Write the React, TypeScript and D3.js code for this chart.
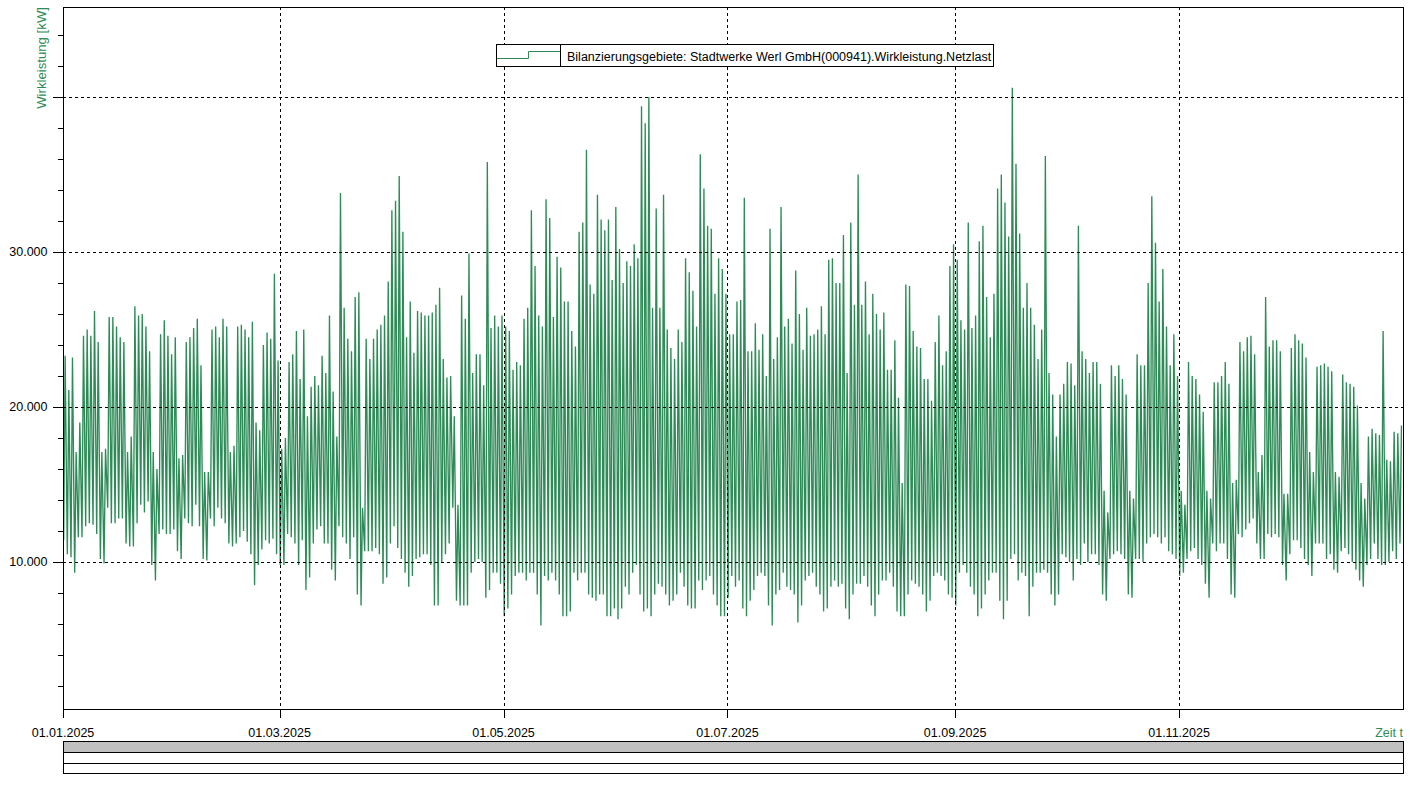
import { useEffect, useRef } from 'react';
import * as d3 from 'd3';

// daily peak and trough of the grid load in kW, 01.01.2025 .. 31.12.2025
const dayHigh = [
  23300, 21100, 23200, 17100, 19000, 24600, 25000, 24600, 26200, 24200,
  17100, 17300, 25800, 25800, 25200, 24500, 24200, 17100, 18100, 26500,
  25900, 26000, 25200, 23600, 17100, 16000, 24700, 25600, 24600, 23400,
  24500, 16700, 16900, 24200, 24500, 25100, 25700, 22700, 15800, 15800,
  25000, 25200, 24500, 25700, 25200, 17100, 17500, 25200, 25300, 25000,
  24500, 25500, 19000, 18500, 24000, 24800, 24400, 28600, 23000, 17300,
  18000, 22900, 23400, 24900, 21800, 25000, 19400, 21300, 22000, 21400,
  23300, 22200, 25900, 21000, 18100, 33800, 26400, 24400, 23600, 27100,
  27400, 13500, 24400, 23100, 24400, 25000, 25300, 25900, 28100, 32700,
  33300, 34900, 31300, 24500, 26800, 23500, 26200, 26100, 25900, 25900,
  26100, 26600, 27700, 23100, 21900, 22000, 19400, 13700, 27200, 25700,
  29900, 22200, 23400, 23400, 21400, 35800, 25100, 25900, 25200, 25900,
  25200, 24900, 22400, 22900, 22700, 25700, 26400, 32700, 29100, 25900,
  25200, 33400, 32200, 25800, 29700, 29000, 26800, 26800, 24900, 23900,
  31300, 31900, 36600, 27900, 27300, 33700, 32100, 31400, 32100, 28200,
  32900, 30200, 28000, 29400, 29100, 30500, 29600, 39400, 38300, 40000,
  26400, 32800, 26400, 33700, 25000, 23800, 23100, 25000, 24200, 29600,
  28700, 27500, 25200, 36300, 34100, 31700, 31500, 27300, 29600, 28900,
  27300, 24700, 24700, 26800, 26900, 33500, 23600, 23600, 25400, 23700,
  24700, 22000, 31500, 23100, 24500, 32900, 25200, 25700, 24100, 28800,
  26000, 23700, 26400, 24600, 24700, 25000, 26500, 24700, 29500, 29600,
  28000, 28000, 31100, 22200, 31900, 26600, 35000, 26600, 28100, 24700,
  27300, 26000, 25000, 26100, 22400, 22400, 24300, 20600, 15100, 27900,
  27800, 24900, 23900, 23800, 21800, 21800, 20400, 24200, 25900, 22700,
  23600, 29100, 30500, 29500, 25600, 25000, 31900, 25100, 25900, 30700,
  31700, 27100, 24500, 27300, 34100, 35000, 33200, 31000, 40600, 35700,
  31200, 26400, 28000, 26400, 25300, 23100, 25000, 36200, 22200, 20800,
  18100, 20800, 21500, 22900, 22800, 21400, 31700, 23600, 23100, 22200,
  22900, 22900, 21500, 14600, 13200, 22700, 22000, 22700, 21800, 20800,
  14600, 14100, 23400, 22700, 22700, 28000, 33600, 30600, 26800, 28900,
  25200, 22700, 24700, 22000, 14600, 13700, 22900, 22000, 21800, 20800,
  19700, 14600, 14100, 21600, 21600, 22000, 22900, 21500, 15100, 15300,
  24200, 23600, 24500, 24600, 23400, 15800, 16900, 27100, 23900, 24300,
  24300, 23600, 14400, 14400, 23800, 24700, 24300, 24100, 23200, 17100,
  15800, 22600, 22700, 22800, 22600, 22300, 15800, 15500, 22100, 21600,
  21500, 21300, 20100, 15100, 14100, 18100, 18600, 18300, 18200, 24900,
  16600, 16500, 18400, 18300, 18800,
];

const dayLow = [
  11400, 10500, 10300, 9300, 11600, 11600, 12300, 12500, 12400, 11800,
  10200, 9900, 13500, 12500, 12500, 12800, 12800, 11200, 11000, 11000,
  12500, 13700, 13200, 13900, 9800, 8800, 11800, 12100, 11800, 11800,
  12100, 10700, 10200, 12800, 12500, 12300, 13700, 12300, 10200, 10100,
  12800, 12300, 13500, 12800, 12500, 11200, 11000, 11200, 11600, 12000,
  11300, 10500, 8500, 9800, 10800, 11400, 11200, 11500, 10500, 9800,
  9800, 11800, 11600, 11200, 9800, 11400, 8200, 9000, 11200, 12100,
  12300, 11200, 11200, 9500, 8800, 12300, 11600, 11200, 10200, 11600,
  7900, 7200, 10700, 10700, 10700, 10900, 10500, 8600, 9000, 11200,
  12300, 10900, 10200, 9300, 8400, 9100, 10200, 10300, 10500, 10500,
  9800, 7200, 7200, 10000, 10500, 11200, 13500, 7500, 7200, 7200,
  7200, 9300, 10000, 10200, 10000, 7700, 8200, 9300, 9300, 8600,
  6500, 7000, 7900, 9100, 9300, 9300, 8800, 9300, 9300, 7900,
  5900, 9100, 8800, 9300, 8800, 7900, 6500, 6500, 6800, 9300,
  8800, 9300, 9300, 7900, 7700, 7500, 7900, 7900, 6500, 6500,
  7000, 6300, 7000, 8400, 7900, 9300, 9800, 7900, 6800, 7000,
  6500, 7900, 8600, 8400, 7900, 7200, 7500, 7900, 9300, 8400,
  7200, 7000, 7000, 8800, 8200, 8800, 9100, 7900, 7200, 6500,
  6500, 7700, 9100, 8400, 8800, 7000, 6500, 7500, 8200, 9100,
  9300, 9100, 7200, 5900, 7900, 8200, 9300, 8400, 8200, 7900,
  6100, 7200, 8800, 9100, 9300, 8400, 7900, 6800, 7000, 8400,
  8800, 8400, 8600, 7000, 6300, 7900, 8600, 8600, 9100, 8400,
  7200, 6500, 7900, 8800, 8800, 9300, 8400, 6800, 6500, 6500,
  7900, 8800, 8600, 8400, 7900, 6800, 7500, 9100, 9300, 9100,
  8800, 7900, 7700, 7200, 9300, 9800, 9300, 8400, 7900, 6500,
  7000, 7900, 8800, 9300, 9300, 7500, 6300, 7500, 10200, 10500,
  8800, 9300, 9100, 6500, 8400, 9300, 9300, 9500, 9300, 7900,
  7200, 7900, 10500, 10300, 10000, 8800, 10200, 9800, 11200, 10000,
  10500, 10500, 9800, 7900, 7500, 10200, 10500, 10700, 10500, 10200,
  7900, 7700, 10200, 10200, 10000, 11200, 11600, 11800, 11600, 11200,
  11600, 10700, 10500, 10200, 9100, 9300, 10200, 10700, 10900, 10200,
  9800, 8600, 7700, 11200, 10700, 11200, 11200, 10200, 7900, 7700,
  11800, 11600, 12100, 12500, 12800, 11200, 10200, 10200, 11800, 11600,
  11800, 11600, 9800, 8800, 10500, 11400, 11400, 10900, 10200, 9800,
  9100, 11200, 11200, 11200, 10200, 10500, 9500, 9300, 10700, 10900,
  10500, 10000, 9500, 8800, 8400, 9800, 10200, 11200, 10200, 9800,
  9800, 10000, 10700, 10200, 11200,
];

const xTickDates = ['2025-01-01', '2025-03-01', '2025-05-01', '2025-07-01', '2025-09-01', '2025-11-01'];
const yLabelValues = [10000, 20000, 30000];
const yGridValues = [10000, 20000, 30000, 40000];
const seriesName = 'Bilanzierungsgebiete: Stadtwerke Werl GmbH(000941).Wirkleistung.Netzlast';
const yTitle = 'Wirkleistung [kW]';
const xTitle = 'Zeit t';

const WIDTH = 1410;
const HEIGHT = 795;
const plot = { left: 63, right: 1403, top: 7, bottom: 709 };
const GREEN = '#2e8b57';
const FONT = '"Liberation Sans", Arial, sans-serif';
const FS = 12.5;

export default function App() {
  const svgRef = useRef<SVGSVGElement>(null);

  useEffect(() => {
    if (!svgRef.current) return;
    const svg = d3.select(svgRef.current);
    svg.selectAll('*').remove();

    const x = d3.scaleUtc()
      .domain([new Date(Date.UTC(2025, 0, 1)), new Date(Date.UTC(2026, 0, 1))])
      .range([plot.left, plot.right]);
    const y = d3.scaleLinear().domain([516, 45806]).range([plot.bottom, plot.top]);

    const de = d3.formatLocale({ decimal: ',', thousands: '.', grouping: [3], currency: ['', ' €'] });
    const fmtNum = de.format(',');
    const fmtDate = d3.utcFormat('%d.%m.%Y');
    const dayMs = 86400000;
    const t0 = Date.UTC(2025, 0, 1);

    // zigzag through each day's trough and peak
    const pts: [number, number][] = [];
    dayHigh.forEach((hi, i) => {
      pts.push([t0 + (i + 0.18) * dayMs, dayLow[i]]);
      pts.push([t0 + (i + 0.58) * dayMs, hi]);
    });

    const line = d3.line<[number, number]>()
      .x(d => x(new Date(d[0])))
      .y(d => y(d[1]));

    svg.append('path')
      .datum(pts)
      .attr('d', line)
      .attr('fill', 'none')
      .attr('stroke', GREEN)
      .attr('stroke-width', 1.35)
      .attr('stroke-linejoin', 'miter')
      .attr('stroke-miterlimit', 2);

    // grid
    const grid = svg.append('g').attr('stroke', '#000').attr('stroke-dasharray', '3,3').attr('stroke-width', 1);
    yGridValues.forEach(v => {
      const yy = Math.round(y(v)) + 0.5;
      grid.append('line').attr('x1', plot.left).attr('x2', plot.right).attr('y1', yy).attr('y2', yy);
    });
    xTickDates.slice(1).forEach(s => {
      const xx = Math.round(x(new Date(s + 'T00:00:00Z'))) + 0.5;
      grid.append('line').attr('x1', xx).attr('x2', xx).attr('y1', plot.top).attr('y2', plot.bottom);
    });

    // frame
    svg.append('rect')
      .attr('x', plot.left + 0.5).attr('y', plot.top + 0.5)
      .attr('width', plot.right - plot.left).attr('height', plot.bottom - plot.top)
      .attr('fill', 'none').attr('stroke', '#000');

    // y ticks
    const yTicks = svg.append('g').attr('stroke', '#000');
    d3.range(2000, 45000, 2000).forEach(v => {
      const yy = Math.round(y(v)) + 0.5;
      const major = v % 10000 === 0;
      yTicks.append('line').attr('x1', major ? 53 : 58).attr('x2', plot.left).attr('y1', yy).attr('y2', yy);
    });
    svg.append('g').selectAll('text').data(yLabelValues).enter().append('text')
      .attr('x', 47.5).attr('y', d => y(d) + 4.5)
      .attr('text-anchor', 'end')
      .attr('font-family', FONT).attr('font-size', FS).attr('fill', '#000')
      .text(d => fmtNum(d));

    svg.append('text')
      .attr('transform', 'translate(45.5,7) rotate(-90)')
      .attr('text-anchor', 'end')
      .attr('font-family', FONT).attr('font-size', 13.2).attr('fill', GREEN)
      .text(yTitle);

    // x ticks
    xTickDates.forEach(s => {
      const dt = new Date(s + 'T00:00:00Z');
      const xx = Math.round(x(dt)) + 0.5;
      svg.append('line').attr('x1', xx).attr('x2', xx).attr('y1', plot.bottom).attr('y2', plot.bottom + 9).attr('stroke', '#000');
      svg.append('text')
        .attr('x', x(dt)).attr('y', 736.5)
        .attr('text-anchor', 'middle')
        .attr('font-family', FONT).attr('font-size', FS).attr('fill', '#000')
        .text(fmtDate(dt));
    });
    svg.append('text')
      .attr('x', plot.right).attr('y', 736.5)
      .attr('text-anchor', 'end')
      .attr('font-family', FONT).attr('font-size', FS).attr('fill', GREEN)
      .text(xTitle);

    // legend
    const lg = svg.append('g');
    lg.append('rect').attr('x', 496.5).attr('y', 44.5).attr('width', 497).attr('height', 22)
      .attr('fill', '#fff').attr('stroke', '#000');
    lg.append('line').attr('x1', 560.5).attr('x2', 560.5).attr('y1', 44.5).attr('y2', 66.5).attr('stroke', '#000');
    lg.append('path').attr('d', 'M497,58.5H528.5V51.5H560').attr('fill', 'none').attr('stroke', GREEN);
    lg.append('text').attr('x', 567).attr('y', 60.5)
      .attr('font-family', FONT).attr('font-size', FS).attr('fill', '#000')
      .text(seriesName);

    // scroll bar
    const sb = svg.append('g');
    sb.append('rect').attr('x', plot.left + 0.5).attr('y', 741.5).attr('width', plot.right - plot.left).attr('height', 11)
      .attr('fill', '#c0c0c0').attr('stroke', '#000');
    sb.append('rect').attr('x', plot.left + 0.5).attr('y', 752.5).attr('width', plot.right - plot.left).attr('height', 21)
      .attr('fill', '#fff').attr('stroke', '#000');
    sb.append('line').attr('x1', plot.left + 0.5).attr('x2', plot.right + 0.5).attr('y1', 763.5).attr('y2', 763.5).attr('stroke', '#000');
  }, []);

  return (
    <div style={{ position: 'absolute', left: 0, top: 0, width: WIDTH, height: HEIGHT, background: '#fff' }}>
      <svg ref={svgRef} width={WIDTH} height={HEIGHT}></svg>
    </div>
  );
}
